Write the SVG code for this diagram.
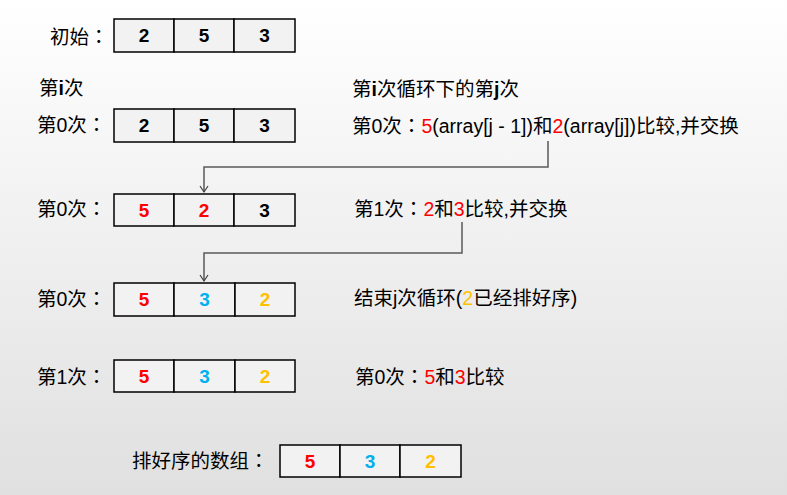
<svg xmlns="http://www.w3.org/2000/svg" width="787" height="495" viewBox="0 0 787 495">
<defs>
<linearGradient id="bg" x1="0" y1="0" x2="0" y2="1">
<stop offset="0" stop-color="#ffffff"/>
<stop offset="1" stop-color="#e0e0e0"/>
</linearGradient>
<marker id="arr" markerWidth="10" markerHeight="10" refX="5" refY="8" orient="0" markerUnits="userSpaceOnUse">
<path d="M1,2 L5,8 L9,2" fill="none" stroke="#404040" stroke-width="1.2"/>
</marker>
<style>
.cell{fill:#f2f2f2;stroke:#000;stroke-width:1.5}
.num{font-family:"Liberation Sans",Arial,sans-serif;font-weight:bold;font-size:19px;text-anchor:middle}
.lbl{font-family:"Liberation Sans","Noto Sans CJK SC",sans-serif;font-size:19.5px;fill:#000}
.c{font-family:"Noto Sans CJK TC",sans-serif}
.r{fill:#ff0000}.b{fill:#00b0f0}.o{fill:#ffc000}.k{fill:#000}
.conn{fill:none;stroke:#595959;stroke-width:1.5}
</style>
</defs>
<rect x="0" y="0" width="787" height="495" fill="url(#bg)"/>

<g id="row-init">
<text class="lbl" x="50" y="44">初始<tspan class="c">：</tspan></text>
<rect class="cell" x="114" y="19" width="60" height="33"/>
<rect class="cell" x="174" y="19" width="60" height="33"/>
<rect class="cell" x="234" y="19" width="61" height="33"/>
<text class="num k" x="144" y="42">2</text>
<text class="num k" x="204" y="42">5</text>
<text class="num k" x="264.5" y="42">3</text>
</g>

<g id="heading-i"><text class="lbl" x="39" y="95">第<tspan font-weight="bold">i</tspan>次</text></g>
<g id="heading-j"><text class="lbl" x="352" y="96">第<tspan font-weight="bold">i</tspan>次循环下的第<tspan font-weight="bold">j</tspan>次</text></g>

<g id="row-1">
<text class="lbl" x="37" y="132">第0次<tspan class="c">：</tspan></text>
<rect class="cell" x="114" y="109" width="60" height="33"/>
<rect class="cell" x="174" y="109" width="60" height="33"/>
<rect class="cell" x="234" y="109" width="61" height="33"/>
<text class="num k" x="144" y="132">2</text>
<text class="num k" x="204" y="132">5</text>
<text class="num k" x="264.5" y="132">3</text>
</g>
<g id="note-1"><text class="lbl" x="352" y="133">第0次<tspan class="c">：</tspan><tspan class="r">5</tspan>(array[j - 1])和<tspan class="r">2</tspan>(array[j])比较,并交换</text></g>

<g id="row-2">
<text class="lbl" x="37" y="216">第0次<tspan class="c">：</tspan></text>
<rect class="cell" x="114" y="194" width="60" height="32"/>
<rect class="cell" x="174" y="194" width="60" height="32"/>
<rect class="cell" x="234" y="194" width="61" height="32"/>
<text class="num r" x="144" y="217">5</text>
<text class="num r" x="204" y="217">2</text>
<text class="num k" x="264.5" y="217">3</text>
</g>
<g id="note-2"><text class="lbl" x="354" y="216">第1次<tspan class="c">：</tspan><tspan class="r">2</tspan>和<tspan class="r">3</tspan>比较,并交换</text></g>

<g id="row-3">
<text class="lbl" x="37" y="306">第0次<tspan class="c">：</tspan></text>
<rect class="cell" x="114" y="283" width="60" height="33"/>
<rect class="cell" x="174" y="283" width="61" height="33"/>
<rect class="cell" x="235" y="283" width="60" height="33"/>
<text class="num r" x="144" y="306">5</text>
<text class="num b" x="204.5" y="306">3</text>
<text class="num o" x="265" y="306">2</text>
</g>
<g id="note-3"><text class="lbl" x="354" y="305">结束j次循环(<tspan class="o">2</tspan>已经排好序)</text></g>

<g id="row-4">
<text class="lbl" x="37" y="384">第1次<tspan class="c">：</tspan></text>
<rect class="cell" x="114" y="360" width="60" height="32"/>
<rect class="cell" x="174" y="360" width="61" height="32"/>
<rect class="cell" x="235" y="360" width="60" height="32"/>
<text class="num r" x="144" y="383">5</text>
<text class="num b" x="204.5" y="383">3</text>
<text class="num o" x="265" y="383">2</text>
</g>
<g id="note-4"><text class="lbl" x="355" y="384">第0次<tspan class="c">：</tspan><tspan class="r">5</tspan>和<tspan class="r">3</tspan>比较</text></g>

<g id="row-final">
<text class="lbl" x="132" y="468">排好序的数组<tspan class="c">：</tspan></text>
<rect class="cell" x="280" y="445" width="60" height="32"/>
<rect class="cell" x="340" y="445" width="60" height="32"/>
<rect class="cell" x="400" y="445" width="61" height="32"/>
<text class="num r" x="310" y="468">5</text>
<text class="num b" x="370" y="468">3</text>
<text class="num o" x="430.5" y="468">2</text>
</g>

<g id="connectors">
<path class="conn" d="M548,141 V167 H204 V192" marker-end="url(#arr)"/>
<path class="conn" d="M462,222 V253 H204 V281" marker-end="url(#arr)"/>
</g>
</svg>
